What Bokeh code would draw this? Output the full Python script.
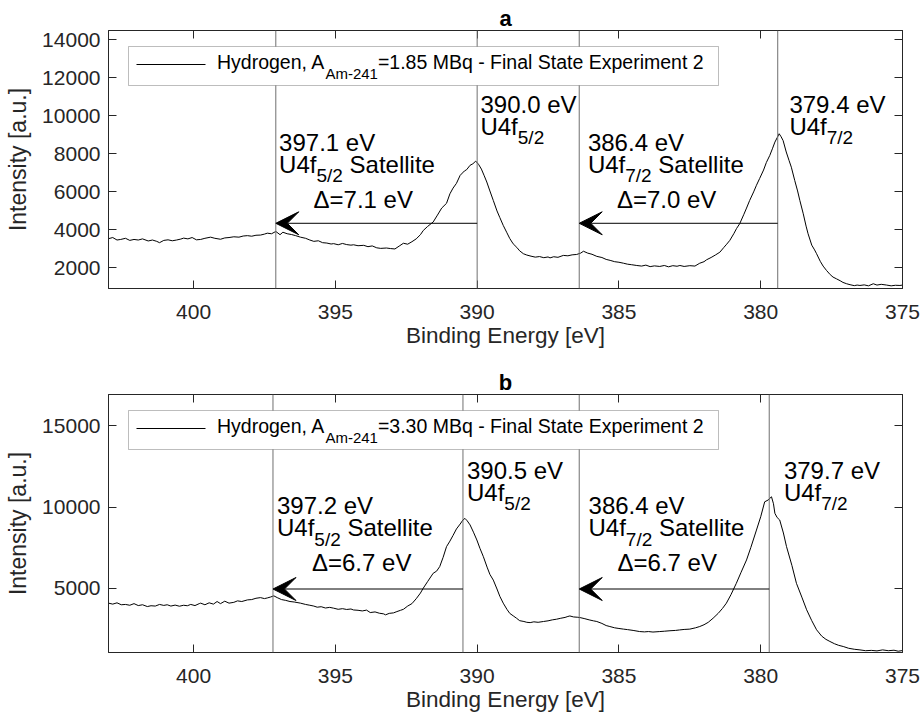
import math
from bokeh.plotting import figure
from bokeh.layouts import column
from bokeh.models import (Range1d, FixedTicker, LinearAxis, Span, Arrow, VeeHead,
                          Label, BoxAnnotation, CustomJSTickFormatter)
from bokeh.embed import file_html
from bokeh.resources import INLINE

FONT = "Liberation Sans"
AX = "#262626"
VLINE = "#707070"

# ---------------- data ----------------
energy_a = [403.0, 402.85, 402.7, 402.57, 402.4, 402.25, 402.1, 401.95, 401.8, 401.6, 401.45, 401.3,
            401.2, 401.05, 400.9, 400.75, 400.6, 400.45, 400.35, 400.2, 400.05, 399.9, 399.75, 399.6,
            399.4, 399.25, 399.05, 398.9, 398.75, 398.58, 398.4, 398.25, 398.1, 397.95, 397.8, 397.64,
            397.5, 397.4, 397.25, 397.1, 396.95, 396.85, 396.7, 396.55, 396.4, 396.23, 396.05, 395.9,
            395.76, 395.6, 395.45, 395.3, 395.15, 395.06, 394.9, 394.75, 394.6, 394.45, 394.36, 394.2,
            394.0, 393.85, 393.7, 393.54, 393.4, 393.2, 393.05, 392.9, 392.75, 392.6, 392.45, 392.3,
            392.15, 392.0, 391.9, 391.75, 391.55, 391.4, 391.25, 391.08, 390.96, 390.85, 390.73, 390.6,
            390.45, 390.37, 390.25, 390.15, 390.05, 389.95, 389.85, 389.75, 389.66, 389.55, 389.43, 389.3,
            389.2, 389.08, 388.95, 388.85, 388.73, 388.6, 388.5, 388.37, 388.25, 388.1, 387.95, 387.8,
            387.65, 387.5, 387.43, 387.3, 387.15, 386.96, 386.8, 386.65, 386.49, 386.35, 386.25, 386.1,
            385.95, 385.78, 385.6, 385.45, 385.31, 385.15, 385.0, 384.84, 384.7, 384.55, 384.37, 384.2,
            384.05, 383.9, 383.75, 383.56, 383.4, 383.25, 383.1, 382.95, 382.85, 382.7, 382.5, 382.32,
            382.15, 382.0, 381.91, 381.75, 381.6, 381.44, 381.3, 381.2, 381.09, 380.95, 380.85, 380.74,
            380.6, 380.5, 380.39, 380.25, 380.15, 380.04, 379.9, 379.8, 379.68, 379.58, 379.5, 379.42,
            379.35, 379.28, 379.21, 379.1, 379.0, 378.92, 378.8, 378.7, 378.62, 378.5, 378.4, 378.33,
            378.2, 378.1, 378.03, 377.9, 377.8, 377.68, 377.55, 377.45, 377.33, 377.2, 377.1, 376.97,
            376.85, 376.7, 376.6, 376.5, 376.35, 376.2, 376.03, 375.9, 375.75, 375.56, 375.4, 375.25,
            375.09, 375.0]
intensity_a = [3540, 3600, 3470, 3500, 3560, 3450, 3500, 3470, 3530, 3420, 3470, 3400,
               3330, 3450, 3480, 3430, 3470, 3520, 3570, 3530, 3600, 3480, 3500, 3560,
               3620, 3560, 3510, 3580, 3600, 3640, 3620, 3680, 3700, 3670, 3720, 3730,
               3780, 3830, 3800, 3920, 3750, 3880, 3800, 3760, 3700, 3620, 3560, 3470,
               3400, 3430, 3330, 3310, 3260, 3280, 3220, 3290, 3230, 3200, 3220, 3170,
               3190, 3120, 3160, 3060, 3030, 3050, 3020, 3000, 3150, 3300, 3250, 3380,
               3530, 3750, 3970, 4180, 4420, 4780, 5150, 5400, 5900, 6200, 6450, 6870,
               7100, 7170, 7400, 7480, 7620, 7450, 7200, 6850, 6520, 6050, 5550, 5000,
               4650, 4240, 3850, 3550, 3270, 3080, 2900, 2750, 2680, 2620, 2570, 2600,
               2540, 2580, 2530, 2590, 2560, 2660, 2640, 2690, 2710, 2780, 2880, 2780,
               2720, 2610, 2550, 2450, 2400, 2330, 2300, 2250, 2200, 2170, 2130, 2100,
               2150, 2070, 2110, 2080, 2130, 2060, 2120, 2090, 2130, 2080, 2120, 2100,
               2250, 2330, 2430, 2550, 2680, 2830, 3080, 3250, 3450, 3800, 4080, 4330,
               4800, 5150, 5550, 6000, 6350, 6700, 7150, 7550, 7920, 8300, 8620, 8850,
               9060, 8900, 8700, 8100, 7650, 7300, 6600, 6050, 5550, 4850, 4200, 3800,
               3200, 2950, 2750, 2350, 2100, 1870, 1650, 1520, 1430, 1330, 1240, 1170,
               1120, 1070, 1100, 1080, 1110, 1060, 1170, 1100, 1140, 1100, 1060, 1090,
               1080, 1100]

energy_b = [403.0, 402.85, 402.7, 402.55, 402.4, 402.25, 402.1, 401.95, 401.8, 401.63, 401.5, 401.35,
            401.2, 401.05, 400.93, 400.8, 400.65, 400.5, 400.35, 400.22, 400.1, 399.95, 399.8, 399.75,
            399.6, 399.45, 399.3, 399.17, 399.05, 398.9, 398.75, 398.58, 398.45, 398.3, 398.1, 397.95,
            397.8, 397.64, 397.5, 397.4, 397.28, 397.17, 397.05, 396.9, 396.75, 396.6, 396.45, 396.23,
            396.05, 395.9, 395.76, 395.64, 395.5, 395.35, 395.2, 395.06, 394.9, 394.75, 394.6, 394.45,
            394.36, 394.2, 394.05, 393.9, 393.77, 393.6, 393.45, 393.3, 393.23, 393.1, 392.95, 392.83,
            392.7, 392.6, 392.45, 392.3, 392.15, 392.0, 391.9, 391.75, 391.55, 391.43, 391.32, 391.2,
            391.08, 390.96, 390.85, 390.73, 390.6, 390.5, 390.43, 390.35, 390.25, 390.13, 390.01, 389.9,
            389.78, 389.65, 389.55, 389.43, 389.3, 389.2, 389.08, 388.95, 388.85, 388.73, 388.61, 388.5,
            388.35, 388.25, 388.13, 388.0, 387.85, 387.66, 387.5, 387.35, 387.2, 387.05, 386.9, 386.8,
            386.73, 386.6, 386.45, 386.37, 386.2, 386.05, 385.9, 385.78, 385.6, 385.45, 385.32, 385.15,
            385.0, 384.84, 384.7, 384.5, 384.27, 384.1, 383.96, 383.8, 383.56, 383.4, 383.2, 383.0,
            382.86, 382.7, 382.5, 382.3, 382.15, 382.0, 381.85, 381.68, 381.5, 381.35, 381.21, 381.05,
            380.86, 380.7, 380.5, 380.35, 380.15, 380.0, 379.86, 379.74, 379.62, 379.55, 379.5, 379.42,
            379.33, 379.2, 379.09, 378.9, 378.74, 378.55, 378.38, 378.2, 378.03, 377.85, 377.7, 377.56,
            377.4, 377.25, 377.09, 376.9, 376.7, 376.5, 376.3, 376.1, 375.9, 375.7, 375.5, 375.3,
            375.15, 375.0]
intensity_b = [4080, 4020, 4100, 3980, 4000, 3950, 4050, 3930, 3980, 3870, 3920, 3900,
               4000, 3940, 3980, 3900, 3960, 3890, 3950, 3920, 4000, 3930, 4050, 4080,
               3980, 4100, 4020, 4180, 4050, 4200, 4080, 4130, 4220, 4180, 4280, 4300,
               4380, 4420, 4360, 4400, 4460, 4530, 4420, 4300, 4250, 4180, 4150, 4080,
               4000, 3950, 3900, 3830, 3860, 3780, 3820, 3770, 3700, 3740, 3690, 3720,
               3660, 3640, 3600, 3650, 3500, 3540, 3460, 3420, 3360, 3450, 3480, 3560,
               3640, 3700, 3900, 4050, 4350, 4700, 5000, 5400, 5920, 6050, 6330, 6900,
               7560, 7900, 8250, 8650, 8950, 9200, 9300, 9150, 8900, 8450, 7970, 7450,
               6940, 6300, 5850, 5500, 4950, 4500, 4080, 3700, 3450, 3300, 3150, 3000,
               2950, 2900, 2880, 2930, 2900, 2950, 2990, 3050, 3090, 3150, 3200, 3260,
               3290, 3230, 3210, 3190, 3120, 3050, 2990, 2950, 2830, 2700, 2640, 2560,
               2520, 2480, 2450, 2400, 2330, 2310, 2330, 2300, 2330, 2350, 2380, 2400,
               2430, 2460, 2480, 2560, 2640, 2750, 2900, 3150, 3450, 3750, 4080, 4600,
               5300, 5950, 6740, 7500, 8580, 9400, 10320, 10430, 10630, 10200, 9610, 9350,
               9200, 8400, 7560, 6400, 5300, 4450, 3670, 3000, 2440, 2050, 1850, 1720,
               1580, 1480, 1410, 1300, 1240, 1200, 1150, 1170, 1140, 1200, 1150, 1180,
               1120, 1160]

x_ticks = [400, 395, 390, 385, 380, 375]
x_limits = [403.0, 375.0]          # reversed binding-energy axis
y_ticks_a = [2000, 4000, 6000, 8000, 10000, 12000, 14000]
y_ticks_b = [5000, 10000, 15000]
y_limits_a = [920, 14490]
y_limits_b = [1040, 16930]

peaks_a = [390.0, 379.4]
satellites_a = [397.1, 386.4]
peaks_b = [390.5, 379.7]
satellites_b = [397.2, 386.4]
orbitals = ["5/2", "7/2"]
activities = ["1.85", "3.30"]
panel_names = ["a", "b"]
arrow_level_a = 4350
arrow_level_b = 4950
peak_label_top_a = 11050
sat_label_top_a = 9070
peak_label_top_b = 12800
sat_label_top_b = 10610

# ---------------- helpers ----------------
ARIAL = {' ': 278, ',': 278, '-': 333, '.': 278, '/': 278, '=': 584,
         'A': 667, 'B': 667, 'E': 667, 'F': 611, 'H': 722, 'M': 833, 'S': 667, 'U': 722, 'V': 667,
         'a': 556, 'd': 556, 'e': 556, 'f': 278, 'g': 556, 'i': 222, 'l': 222, 'm': 833, 'n': 556,
         'o': 556, 'p': 556, 'q': 556, 'r': 333, 't': 278, 'x': 500, 'y': 500}


def tw(s, size):
    return sum(ARIAL.get(c, 556) for c in s) * size / 1000.0


FW, FH = 794, 258
LIFT = 8  # pixel correction of the alphabetic baseline of labels


def add_label(p, x, y, text, dx=0, dy=0, size=24, bold=False, align="left",
              baseline="alphabetic", angle=0.0, color="black"):
    p.add_layout(Label(x=x, y=y, x_offset=dx, y_offset=dy + LIFT, text=text, text_font=FONT,
                       text_font_size=f"{size}px", text_color=color, text_align=align,
                       text_baseline=baseline, angle=angle,
                       text_font_style="bold" if bold else "normal"))


def blank_axis(ticks):
    return LinearAxis(ticker=FixedTicker(ticks=ticks),
                      formatter=CustomJSTickFormatter(code="return ''"),
                      major_label_text_font_size="0px", major_label_standoff=0,
                      major_tick_in=8, major_tick_out=0, minor_tick_line_color=None,
                      axis_line_color=AX, major_tick_line_color=AX)


def panel(name, energy, intensity, ylim, yticks, peaks, sats, arrow_y, peak_top, sat_top,
          activity, top_border, bottom_border, peak_dx, sat_dx, delta_dx):
    p = figure(frame_width=FW, frame_height=FH,
               x_range=Range1d(x_limits[0], x_limits[1]), y_range=Range1d(ylim[0], ylim[1]),
               output_backend="svg", toolbar_location=None,
               min_border_left=108, min_border_right=18,
               min_border_top=top_border, min_border_bottom=bottom_border)
    p.xgrid.visible = False
    p.ygrid.visible = False
    p.outline_line_color = AX
    p.background_fill_color = "white"
    p.border_fill_color = "white"

    p.title.text = name
    p.title.align = "center"
    p.title.text_font = FONT
    p.title.text_font_size = "22px"
    p.title.text_font_style = "bold"
    p.title.text_color = "black"
    p.title.standoff = 0

    xa = p.below[0]
    xa.ticker = FixedTicker(ticks=x_ticks)
    ya = p.left[0]
    ya.ticker = FixedTicker(ticks=yticks)
    for ax, standoff, lab, lstand, lsize in ((xa, 16, "Binding Energy [eV]", 1, 22.5),
                                             (ya, 8, "Intensity [a.u.]", 8, 23)):
        ax.major_tick_in = 8
        ax.major_tick_out = 0
        ax.minor_tick_line_color = None
        ax.axis_line_color = AX
        ax.major_tick_line_color = AX
        ax.major_label_text_font = FONT
        ax.major_label_text_font_size = "21px"
        ax.major_label_text_color = AX
        ax.major_label_standoff = standoff
        ax.axis_label = lab
        ax.axis_label_text_font = FONT
        ax.axis_label_text_font_size = f"{lsize}px"
        ax.axis_label_text_font_style = "normal"
        ax.axis_label_text_color = AX
        ax.axis_label_standoff = lstand
    p.add_layout(blank_axis(x_ticks), "above")
    p.add_layout(blank_axis(yticks), "right")

    def px_x(px):
        return x_limits[0] + (x_limits[1] - x_limits[0]) * px / FW

    def px_y(py):
        return ylim[1] - (ylim[1] - ylim[0]) * py / FH

    # reference lines at peaks and satellites
    for e in peaks + sats:
        p.add_layout(Span(location=e, dimension="height", line_color=VLINE, line_width=1))

    p.line(energy, intensity, line_color="black", line_width=1)

    # shift arrows
    for pk, st in zip(peaks, sats):
        p.add_layout(Arrow(x_start=pk, y_start=arrow_y, x_end=st, y_end=arrow_y,
                           line_color="black", line_width=1,
                           end=VeeHead(size=23, fill_color="black", line_color="black")))

    # legend
    p.add_layout(BoxAnnotation(left=px_x(20), right=px_x(610), top=px_y(16), bottom=px_y(55),
                               fill_color="white", fill_alpha=1.0, line_color=AX, line_width=1,
                               level="annotation"))
    p.add_layout(Arrow(x_start=px_x(28), y_start=px_y(34), x_end=px_x(97), y_end=px_y(34),
                       start=None, end=None, line_color="black", line_width=1))
    lx, ly = px_x(108.5), px_y(39.3)
    t1 = "Hydrogen, A"
    t2 = "Am-241"
    t3 = f"={activity} MBq - Final State Experiment 2"
    add_label(p, lx, ly, t1, 0, 0, 19.5)
    add_label(p, lx, ly, t2, tw(t1, 19.5), -12.0, 15)
    add_label(p, lx, ly, t3, tw(t1, 19.5) + tw(t2, 15), 0, 19.5)

    # peak annotations
    for i, pk in enumerate(peaks):
        add_label(p, pk, peak_top, f"{pk:.1f} eV", peak_dx[i], -16.5, 24)
        add_label(p, pk, peak_top, "U4f", peak_dx[i], -38.5, 24)
        add_label(p, pk, peak_top, orbitals[i], peak_dx[i] + tw("U4f", 24), -50, 19)
    for i, (pk, st) in enumerate(zip(peaks, sats)):
        add_label(p, st, sat_top, f"{st:.1f} eV", sat_dx[i], -16.5, 24)
        add_label(p, st, sat_top, "U4f", sat_dx[i], -38.7, 24)
        add_label(p, st, sat_top, orbitals[i], sat_dx[i] + tw("U4f", 24), -50.3, 19)
        add_label(p, st, sat_top, "Satellite",
                  sat_dx[i] + tw("U4f", 24) + tw(orbitals[i], 19) + tw(" ", 24), -38.7, 24)
        add_label(p, st, sat_top, f"\u0394={st - pk:.1f} eV", delta_dx[i], -73.7, 24)
    return p


pa = panel(panel_names[0], energy_a, intensity_a, y_limits_a, y_ticks_a, peaks_a, satellites_a,
           arrow_level_a, peak_label_top_a, sat_label_top_a, activities[0],
           30, 66, [3.3, 11.7], [3.3, 8.7], [37.7, 37.7])
pb = panel(panel_names[1], energy_b, intensity_b, y_limits_b, y_ticks_b, peaks_b, satellites_b,
           arrow_level_b, peak_label_top_b, sat_label_top_b, activities[1],
           40, 66, [4.0, 14.7], [4.0, 9.3], [39.0, 38.3])

layout = column(pa, pb, spacing=0)
open("out.html", "w").write(file_html(layout, INLINE))
